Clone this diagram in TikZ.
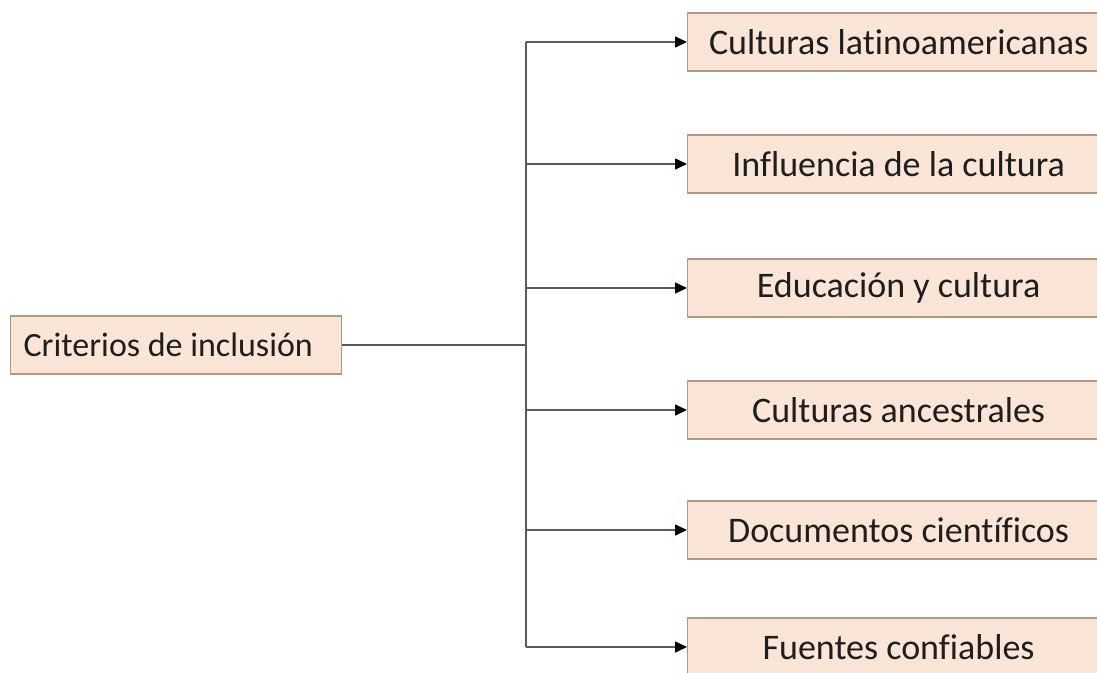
\documentclass[tikz,border=0pt]{standalone}
\usepackage{fontspec}
\setmainfont{Carlito}[Ligatures={NoCommon}]
\usetikzlibrary{arrows.meta}
\definecolor{boxfill}{HTML}{FBE5D6}
\definecolor{boxline}{HTML}{B09A86}
\definecolor{conn}{HTML}{5A5A5A}
\definecolor{txt}{HTML}{1E1E1E}
\tikzset{
  catbox/.style={draw=boxline, line width=1.2pt, fill=boxfill, text=txt,
    font=\fontsize{36}{42}\selectfont, minimum height=58pt, inner sep=0pt,
    anchor=west},
  rootbox/.style={catbox, font=\fontsize{34}{40}\selectfont, minimum width=331pt},
  childbox/.style={catbox, minimum width=422pt, align=center},
  trunk/.style={draw=conn, line width=2pt},
  branch/.style={draw=conn, line width=1.6pt, -{Triangle[length=12pt,width=11pt,fill=black,color=black]}},
}
\begin{document}
\begin{tikzpicture}[x=1pt,y=1pt]
\useasboundingbox (0,0) rectangle (1097,-672);
\clip (0,0) rectangle (1097,-672);
\fill[white] (0,0) rectangle (1097,-672);
\node[rootbox] (root) at (10,-345) {\makebox[305pt][l]{Criterios de inclusión}};
\node[childbox] (c1) at (687,-42) {Culturas latinoamericanas};
\node[childbox] (c2) at (687,-164) {Influencia de la cultura};
\node[childbox] (c3) at (687,-288) {Educación y cultura};
\node[childbox] (c4) at (687,-410) {Culturas ancestrales};
\node[childbox] (c5) at (687,-530) {Documentos científicos};
\node[childbox] (c6) at (687,-647) {Fuentes confiables};
\coordinate (j) at (526,-345);
\draw[trunk] (root.east) -- (j);
\draw[trunk] (j |- c1.west) -- (j |- c6.west);
\foreach \c in {c1,c2,c3,c4,c5,c6}{
  \draw[branch] (j |- \c.west) -- (\c.west);
}
\end{tikzpicture}
\end{document}
